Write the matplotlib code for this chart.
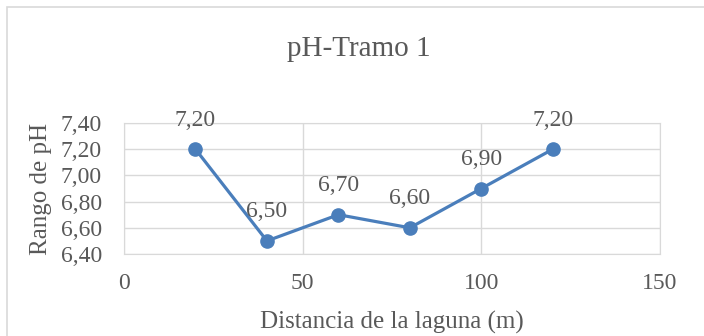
import matplotlib.pyplot as plt
from matplotlib.patches import Rectangle
from matplotlib.ticker import FuncFormatter

# distancia (m) y pH medido
distancia = [20, 40, 60, 80, 100, 120]
ph = [7.20, 6.50, 6.70, 6.60, 6.90, 7.20]
x_ticks = [0, 50, 100, 150]
y_ticks = [6.40, 6.60, 6.80, 7.00, 7.20, 7.40]

gris = '#595959'
azul = '#4A7EBB'
plt.rcParams['font.family'] = ['Liberation Serif', 'DejaVu Serif']

fig = plt.figure(figsize=(7.04, 3.36), dpi=100)
ax = fig.add_axes([124 / 704, 82 / 336, 536 / 704, 131 / 336])

ax.plot(distancia, ph, color=azul, lw=2.3, marker='o', ms=9.5, zorder=3)

for x, y in zip(distancia, ph):
    ax.annotate(f'{y:.2f}'.replace('.', ','), (x, y), xytext=(0, 21),
                textcoords='offset points', ha='center', va='center',
                fontsize=17, color=gris)

ax.set_xlim(0, 150)
ax.set_ylim(6.40, 7.40)
ax.set_xticks(x_ticks)
ax.set_yticks(y_ticks)
ax.yaxis.set_major_formatter(FuncFormatter(lambda v, p: f'{v:.2f}'.replace('.', ',')))
ax.tick_params(length=0, labelsize=17, labelcolor=gris)
ax.tick_params(axis='y', pad=16)
ax.tick_params(axis='x', pad=14)
ax.grid(True, color='#D9D9D9', lw=1)
ax.set_axisbelow(True)
for s in ax.spines.values():
    s.set_color('#D9D9D9')

ax.set_xlabel('Distancia de la laguna (m)', fontsize=18, color=gris, labelpad=12)
ax.set_ylabel('Rango de pH', fontsize=18, color=gris, labelpad=6)

fig.text(359 / 704, 1 - 49 / 336, 'pH-Tramo 1', ha='center', va='center',
         fontsize=21, color=gris)

# marco del gráfico
fig.patches.append(Rectangle((7 / 704, -0.1), 1.2, 1 - 7 / 336 + 0.1,
                             transform=fig.transFigure, fill=False,
                             ec='#D9D9D9', lw=1.2))

fig.savefig('out.png', dpi=100)
